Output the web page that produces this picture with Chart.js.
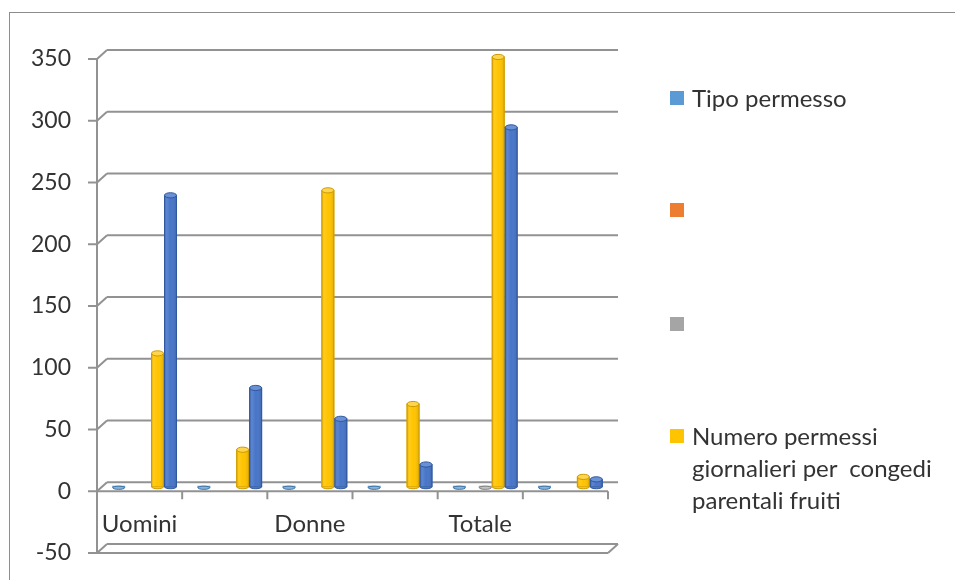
<!DOCTYPE html>
<html>
<head>
<meta charset="utf-8">
<script src="https://cdn.jsdelivr.net/npm/chart.js@4/dist/chart.umd.min.js"></script>
<style>
  html, body { margin: 0; padding: 0; background: #ffffff; }
  #wrap { position: relative; width: 955px; height: 580px; overflow: hidden; background: #ffffff; }
  #frame { position: absolute; left: 9px; top: 12px; width: 1000px; height: 700px;
           border-left: 1px solid #8d8d8d; border-top: 1px solid #8d8d8d; }
  #chart { position: absolute; left: 0; top: 0; }
  .lg-box { position: absolute; left: 670px; width: 14px; height: 14px; }
  .lg-text { position: absolute; left: 692px; font-family: Lato, "Open Sans", sans-serif;
             font-size: 24px; line-height: 32px; color: #333333; white-space: pre; }
</style>
</head>
<body>
<div id="wrap">
  <div id="frame"></div>
  <canvas id="chart" width="955" height="580"></canvas>
  <div id="legend"></div>
</div>
<script>
// Categories along the horizontal axis (every other slot has no label)
const categories = ['Uomini', '', 'Donne', '', 'Totale', ''];

// Series values
const tipoPermesso   = [0, 0, 0, 0, 0, 0];
const serieArancio   = [null, null, null, null, null, null];
const serieGrigia    = [null, null, null, null, 0, null];
const numeroPermessi = [108, 30, 240, 67, 348, 8];
const serieBlu       = [236, 80, 55, 18, 291, 6];

// Value axis ticks
const yTicks = [-50, 0, 50, 100, 150, 200, 250, 300, 350];

// Legend entries (text lines)
const legendLabels = [
  ['Tipo permesso'],
  [''],
  [''],
  ['Numero permessi', 'giornalieri per  congedi', 'parentali fruiti']
];

const palette = {
  lightBlue: { fill: '#5B9BD5', edge: '#41719C', cap: '#86B5E2' },
  orange:    { fill: '#ED7D31', edge: '#AE5A21', cap: '#F29B5F' },
  gray:      { fill: '#A5A5A5', edge: '#7F7F7F', cap: '#C3C3C3' },
  yellow:    { fill: '#FFC400', edge: '#CC9A00', cap: '#FFD54F' },
  blue:      { fill: '#4775C8', edge: '#30589E', cap: '#6A90D6' }
};

const FONT = 'Lato, "Open Sans", sans-serif';
const LINE = '#929292';
const DX = 5;     // half depth, horizontal
const DY = 4.5;   // half depth, vertical

// Walls, floor and axis lines of the 3D frame
const wallsPlugin = {
  id: 'walls',
  beforeDatasetsDraw(chart) {
    const { ctx, chartArea: a, scales: { x, y } } = chart;
    ctx.save();
    ctx.strokeStyle = LINE;
    ctx.lineWidth = 2;
    ctx.lineCap = 'butt';
    const fl = a.left - DX, bl = a.left + DX;
    const fr = a.right - DX, br = a.right + DX;
    const line = (x1, y1, x2, y2) => { ctx.beginPath(); ctx.moveTo(x1, y1); ctx.lineTo(x2, y2); ctx.stroke(); };
    yTicks.forEach(v => {
      const ym = y.getPixelForValue(v);
      const yb = ym - DY, yf = ym + DY;
      line(bl, yb, br, yb);         // back wall
      line(fl, yf, bl, yb);         // side wall edge
      line(fl - 9, yf, fl, yf);     // tick mark
      if (v === y.min) {
        line(fl, yf, fr, yf);
        line(fr, yf, br, yb);
      }
      if (v === 0) {
        line(fl, yf, fr, yf);
        const step = x.getPixelForValue(1) - x.getPixelForValue(0);
        categories.forEach((c, i) => {
          const bx = x.getPixelForValue(i) + step / 2 - DX;
          line(bx, yf, bx, yf + 8);
        });
      }
    });
    line(fl, y.getPixelForValue(y.max) + DY, fl, y.getPixelForValue(y.min) + DY);
    ctx.restore();
  }
};

// Cylinder shading and top caps over the bars
const cylinderPlugin = {
  id: 'cylinders',
  afterDatasetsDraw(chart) {
    const { ctx } = chart;
    ctx.save();
    chart.data.datasets.forEach((ds, di) => {
      const meta = chart.getDatasetMeta(di);
      const col = ds.colors;
      meta.data.forEach((el, i) => {
        if (ds.data[i] === null || ds.data[i] === undefined) return;
        const { x, y, base, width } = el.getProps(['x', 'y', 'base', 'width'], true);
        const l = x - width / 2;
        const top = Math.min(y, base), h = Math.abs(base - y);
        if (h > 3) {
          const g = ctx.createLinearGradient(l, 0, l + width, 0);
          g.addColorStop(0, 'rgba(0,0,0,0.10)');
          g.addColorStop(0.2, 'rgba(255,255,255,0.12)');
          g.addColorStop(0.5, 'rgba(255,255,255,0.0)');
          g.addColorStop(1, 'rgba(0,0,0,0.14)');
          ctx.fillStyle = g;
          ctx.fillRect(l, top, width, h);
          ctx.strokeStyle = col.edge;
          ctx.lineWidth = 1;
          ctx.strokeRect(l + 0.5, top, width - 1, h);
          // rounded bottom
          ctx.beginPath();
          ctx.ellipse(x, base, width / 2 - 0.5, 2, 0, 0, Math.PI);
          ctx.fillStyle = col.fill;
          ctx.fill();
          ctx.stroke();
        }
        ctx.beginPath();
        ctx.ellipse(x, y, width / 2 - 0.5, h > 3 ? 2.6 : 1.6, 0, 0, Math.PI * 2);
        ctx.fillStyle = col.cap;
        ctx.fill();
        ctx.strokeStyle = col.edge;
        ctx.lineWidth = 1;
        ctx.stroke();
      });
    });
    ctx.restore();
  }
};

const series = [
  { label: 'Tipo permesso', data: tipoPermesso, colors: palette.lightBlue },
  { label: '', data: serieArancio, colors: palette.orange },
  { label: '', data: serieGrigia, colors: palette.gray },
  { label: 'Numero permessi giornalieri per congedi parentali fruiti', data: numeroPermessi, colors: palette.yellow },
  { label: '', data: serieBlu, colors: palette.blue }
];

new Chart(document.getElementById('chart'), {
  type: 'bar',
  data: {
    labels: categories,
    datasets: series.map(s => ({
      label: s.label,
      data: s.data,
      colors: s.colors,
      backgroundColor: s.colors.fill,
      borderWidth: 0,
      minBarLength: 2,
      categoryPercentage: 0.76,
      barPercentage: 1
    }))
  },
  options: {
    responsive: false,
    devicePixelRatio: 1,
    animation: false,
    events: [],
    layout: { padding: { left: 0, top: 54.5, right: 342, bottom: 31.5 } },
    plugins: { legend: { display: false }, tooltip: { enabled: false } },
    scales: {
      x: {
        type: 'category',
        position: { y: 0 },
        grid: { display: false, drawTicks: false },
        border: { display: false },
        ticks: {
          autoSkip: false, maxRotation: 0, minRotation: 0,
          padding: 23.5, labelOffset: -DX,
          color: '#333333', font: { family: FONT, size: 24 }
        },
        afterFit(scale) { scale.height = 0; }
      },
      y: {
        min: -50, max: 350,
        afterBuildTicks(scale) { scale.ticks = yTicks.map(v => ({ value: v })); },
        grid: { display: false, drawTicks: true, tickLength: 31 },
        border: { display: false },
        ticks: {
          padding: 0, labelOffset: DY,
          color: '#333333', font: { family: FONT, size: 23 }
        },
        afterFit(scale) { scale.width = 102; }
      }
    }
  },
  plugins: [wallsPlugin, cylinderPlugin]
});

// Legend on the right
const legendTops = [98, 210, 324, 436];
const legendEl = document.getElementById('legend');
legendLabels.forEach((lines, i) => {
  const box = document.createElement('div');
  box.className = 'lg-box';
  box.style.top = (legendTops[i] - 7) + 'px';
  box.style.background = series[i].colors.fill;
  legendEl.appendChild(box);
  const t = document.createElement('div');
  t.className = 'lg-text';
  t.style.top = (legendTops[i] - 16) + 'px';
  t.textContent = lines.join('\n');
  legendEl.appendChild(t);
});
</script>
</body>
</html>
